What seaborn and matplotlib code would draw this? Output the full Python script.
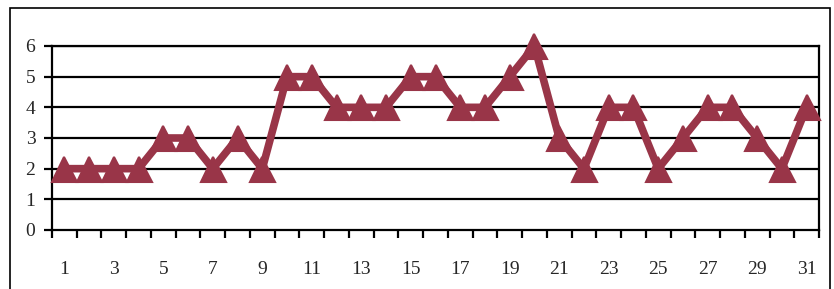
import matplotlib
matplotlib.use("Agg")
import matplotlib.pyplot as plt
import seaborn as sns
import numpy as np
import pandas as pd
from matplotlib.patches import Rectangle

days = list(range(1, 32))
values = [2, 2, 2, 2, 3, 3, 2, 3, 2, 5, 5, 4, 4, 4, 5, 5, 4, 4, 5, 6, 3, 2, 4, 4, 2, 3, 4, 4, 3, 2, 4]
y_ticks = [0, 1, 2, 3, 4, 5, 6]
x_labels = list(range(1, 32, 2))

sns.set_style("white")
plt.rcParams['font.family'] = ['Liberation Serif', 'DejaVu Serif']

df = pd.DataFrame({"day": days, "value": values})
color = "#993548"

fig = plt.figure(figsize=(8.34, 2.89), dpi=100)
ax = fig.add_axes([52/834, 1-230/289, (819-52)/834, (230-46)/289])

for yv in y_ticks[1:]:
    ax.axhline(yv, color="black", lw=1.6, zorder=1)

sns.lineplot(data=df, x="day", y="value", ax=ax, color=color, lw=5.5,
             marker="^", markersize=18, markeredgecolor=color, markeredgewidth=1.5,
             zorder=3, clip_on=False)

ax.set_xlim(0.5, 31.5)
ax.set_ylim(0, 6)
ax.set_yticks(y_ticks)
ax.set_yticklabels([str(v) for v in y_ticks], fontsize=14)
ax.set_xticks(np.arange(0.5, 32, 1))
ax.set_xticklabels([])
ax.set_xticks(x_labels, minor=True)
ax.set_xticklabels([str(v) for v in x_labels], minor=True, fontsize=14)
ax.tick_params(axis="x", which="major", direction="out", length=6, width=1.6, color="black", bottom=True)
ax.tick_params(axis="x", which="minor", length=0, pad=22)
ax.tick_params(axis="y", direction="out", length=6, width=1.6, color="black", left=True, pad=6)
ax.set_xlabel("")
ax.set_ylabel("")
for s in ax.spines.values():
    s.set_color("black")
    s.set_linewidth(1.6)

fig.patches.append(Rectangle((10/834, -0.05), 820/834, 1.05-8/289, transform=fig.transFigure,
                             fill=False, edgecolor="black", lw=1.2))

fig.savefig("out.png", dpi=100)
